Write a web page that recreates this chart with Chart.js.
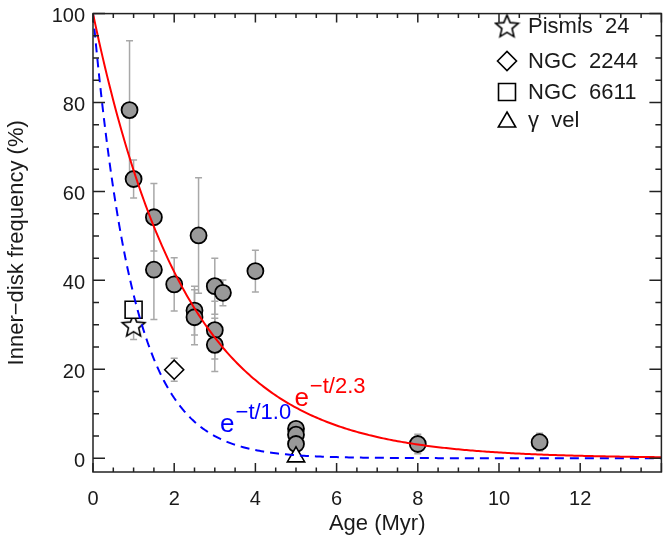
<!DOCTYPE html>
<html>
<head>
<meta charset="utf-8">
<title>Inner-disk frequency vs age</title>
<script src="https://cdn.jsdelivr.net/npm/chart.js@4.4.1/dist/chart.umd.min.js"></script>
<style>
html, body { margin: 0; padding: 0; background: #fff; overflow: hidden; }
#wrap { position: relative; width: 675px; height: 544px; }
</style>
</head>
<body>
<div id="wrap"><canvas id="diskChart"></canvas></div>
<script>
// filled circles: cluster age (Myr), inner-disk fraction (%), 1-sigma error
var ageMyr   = [0.9, 1.0, 1.5, 1.5, 2.0, 2.5, 2.5, 2.6, 3.0, 3.0, 3.0, 3.2, 4.0, 5.0, 5.0, 5.0, 8.0, 11.0];
var diskFrac = [78.3, 62.8, 54.2, 42.4, 39.1, 33.2, 31.7, 50.1, 38.7, 28.8, 25.5, 37.2, 42.1, 6.6, 5.3, 3.2, 3.2, 3.6];
var diskErr  = [15.6, 4.3, 7.6, 11.2, 6.0, 5.5, 6.2, 13.0, 6.3, 6.5, 6.0, 2.9, 4.7, 1.2, 1.2, 1.2, 2.2, 2.0];

// open symbols (legend entries)
var clusterNames = ['Pismis  24', 'NGC  2244', 'NGC  6611', '\u03b3  vel'];
var clusterAge   = [1.0, 2.0, 1.0, 5.0];
var clusterFrac  = [29.9, 19.9, 33.4, 0.3];
var clusterErr   = [3.2, 2.6, 0, 0];

// exponential decay curves e^(-t/tau)
var decayTau = [2.3, 1.0];

var xTicks = [0, 2, 4, 6, 8, 10, 12];
var yTicks = [0, 20, 40, 60, 80, 100];

var FONT = "'Liberation Sans', Arial, sans-serif";
var INK = '#1a1a1a';

function makeStar(size, lw) {
    var c = document.createElement('canvas');
    c.width = c.height = size;
    var g = c.getContext('2d');
    var cx = size / 2, cy = size / 2 + 1, ro = size / 2 - lw, ri = ro * 0.45;
    g.beginPath();
    for (var i = 0; i < 10; i++) {
        var r = (i % 2) ? ri : ro;
        var a = -Math.PI / 2 + i * Math.PI / 5;
        g.lineTo(cx + r * Math.cos(a), cy + r * Math.sin(a));
    }
    g.closePath();
    g.fillStyle = '#fff'; g.fill();
    g.lineWidth = lw; g.strokeStyle = '#000'; g.lineJoin = 'miter'; g.stroke();
    return c;
}
var starImg = makeStar(27, 1.6);
var clusterStyle  = [starImg, 'rectRot', 'rect', 'triangle'];
var clusterRadius = [12, 9.5, 12, 10];

function curvePoints(tau) {
    var pts = [];
    for (var t = 0; t <= 14.001; t += 0.05) {
        pts.push({ x: t, y: 100 * Math.exp(-t / tau) });
    }
    return pts;
}

var curveStyle = [
    { color: '#ff0000', dash: [], label: { x: 4.96, y: 11.8 } },
    { color: '#0000ff', dash: [9, 6], label: { x: 3.13, y: 5.9 } }
];

var errorBarPlugin = {
    id: 'errorBars',
    beforeDatasetsDraw: function(chart) {
        var ctx = chart.ctx, xs = chart.scales.x, ys = chart.scales.y;
        function bar(x, y, e) {
            if (!e) { return; }
            var px = xs.getPixelForValue(x);
            var top = ys.getPixelForValue(y + e), bot = ys.getPixelForValue(y - e);
            ctx.beginPath();
            ctx.moveTo(px, top); ctx.lineTo(px, bot);
            ctx.moveTo(px - 3.5, top); ctx.lineTo(px + 3.5, top);
            ctx.moveTo(px - 3.5, bot); ctx.lineTo(px + 3.5, bot);
            ctx.stroke();
        }
        ctx.save();
        ctx.strokeStyle = '#a8a8a8';
        ctx.lineWidth = 1.5;
        ageMyr.forEach(function(a, i) { bar(a, diskFrac[i], diskErr[i]); });
        clusterAge.forEach(function(a, i) { bar(a, clusterFrac[i], clusterErr[i]); });
        ctx.restore();
    }
};

var framePlugin = {
    id: 'frame',
    afterDatasetsDraw: function(chart) {
        var ctx = chart.ctx, a = chart.chartArea, xs = chart.scales.x, ys = chart.scales.y;
        ctx.save();
        ctx.strokeStyle = '#222';
        ctx.lineWidth = 1.5;
        ctx.strokeRect(a.left, a.top, a.right - a.left, a.bottom - a.top);
        ctx.beginPath();
        var v, p, len;
        for (v = 0; v <= 14.001; v += 0.5) {
            p = xs.getPixelForValue(v);
            len = (Math.abs(v / 2 - Math.round(v / 2)) < 1e-6) ? 9 : 4.5;
            ctx.moveTo(p, a.bottom); ctx.lineTo(p, a.bottom - len);
            ctx.moveTo(p, a.top); ctx.lineTo(p, a.top + len);
        }
        for (v = 0; v <= 100.001; v += 5) {
            p = ys.getPixelForValue(v);
            len = (v % 20 === 0) ? 12 : 6;
            ctx.moveTo(a.left, p); ctx.lineTo(a.left + len, p);
            ctx.moveTo(a.right, p); ctx.lineTo(a.right - len, p);
        }
        ctx.stroke();

        // curve labels e^{-t/tau}
        ctx.textBaseline = 'alphabetic';
        ctx.textAlign = 'left';
        decayTau.forEach(function(tau, i) {
            var s = curveStyle[i];
            var px = xs.getPixelForValue(s.label.x), py = ys.getPixelForValue(s.label.y);
            ctx.fillStyle = s.color;
            ctx.font = '26px ' + FONT;
            ctx.fillText('e', px, py);
            var w = ctx.measureText('e').width;
            ctx.font = '22px ' + FONT;
            ctx.fillText('\u2212t/' + tau.toFixed(1), px + w + 1, py - 13);
        });

        // legend
        var H = Chart.helpers;
        clusterNames.forEach(function(name, i) {
            var ly = [26, 61, 92, 120][i];
            ctx.fillStyle = '#fff';
            ctx.strokeStyle = '#000';
            ctx.lineWidth = 1.6;
            H.drawPoint(ctx, { pointStyle: clusterStyle[i], radius: clusterRadius[i], rotation: 0, borderWidth: 1.6 }, 507, ly + (i === 3 ? 2 : 0));
            ctx.fillStyle = INK;
            ctx.font = (i === 3 ? '' : '') + '22px ' + FONT;
            ctx.textBaseline = 'middle';
            ctx.fillText(name, 528, ly + 1);
        });
        ctx.restore();
    }
};

var datasets = [
    {
        label: 'clusters',
        data: ageMyr.map(function(a, i) { return { x: a, y: diskFrac[i] }; }),
        pointStyle: 'circle',
        pointRadius: 8,
        pointBackgroundColor: '#999999',
        pointBorderColor: '#000',
        pointBorderWidth: 1.8,
        order: 2
    },
    {
        label: 'named',
        data: clusterAge.map(function(a, i) { return { x: a, y: clusterFrac[i] }; }),
        pointStyle: clusterStyle,
        pointRadius: clusterRadius,
        pointBackgroundColor: 'rgba(255,255,255,1)',
        pointBorderColor: '#000',
        pointBorderWidth: 1.6,
        order: 1
    }
];
decayTau.forEach(function(tau, i) {
    datasets.push({
        label: 'tau ' + tau,
        data: curvePoints(tau),
        showLine: true,
        pointRadius: 0,
        borderColor: curveStyle[i].color,
        borderWidth: 2,
        borderDash: curveStyle[i].dash,
        tension: 0,
        order: 0
    });
});

new Chart(document.getElementById('diskChart'), {
    type: 'scatter',
    data: { datasets: datasets },
    plugins: [errorBarPlugin, framePlugin],
    options: {
        responsive: true,
        maintainAspectRatio: false,
        animation: false,
        events: [],
        layout: { padding: { top: 5, right: 1, bottom: 0, left: 0 } },
        plugins: { legend: { display: false }, tooltip: { enabled: false } },
        scales: {
            x: {
                type: 'linear', min: 0, max: 14,
                grid: { display: false, drawTicks: false },
                border: { display: false },
                afterBuildTicks: function(s) { s.ticks = xTicks.map(function(v) { return { value: v }; }); },
                afterFit: function(s) { s.height = 72; s.paddingLeft = 0; s.paddingRight = 0; },
                ticks: { font: { family: FONT, size: 20 }, color: INK, padding: 15, maxRotation: 0, autoSkip: false },
                title: { display: true, text: 'Age (Myr)', font: { family: FONT, size: 22 }, color: INK, padding: { top: 0, bottom: 7 } }
            },
            y: {
                type: 'linear', min: -3.1, max: 100,
                grid: { display: false, drawTicks: false },
                border: { display: false },
                afterBuildTicks: function(s) { s.ticks = yTicks.map(function(v) { return { value: v }; }); },
                afterFit: function(s) { s.width = 93; s.paddingTop = 0; s.paddingBottom = 0; },
                ticks: { font: { family: FONT, size: 20 }, color: INK, padding: 8, labelOffset: 3, autoSkip: false },
                title: { display: true, text: 'Inner\u2212disk frequency (%)', font: { family: FONT, size: 22 }, color: INK, padding: { top: 4, bottom: 0 } }
            }
        }
    }
});
</script>
</body>
</html>
